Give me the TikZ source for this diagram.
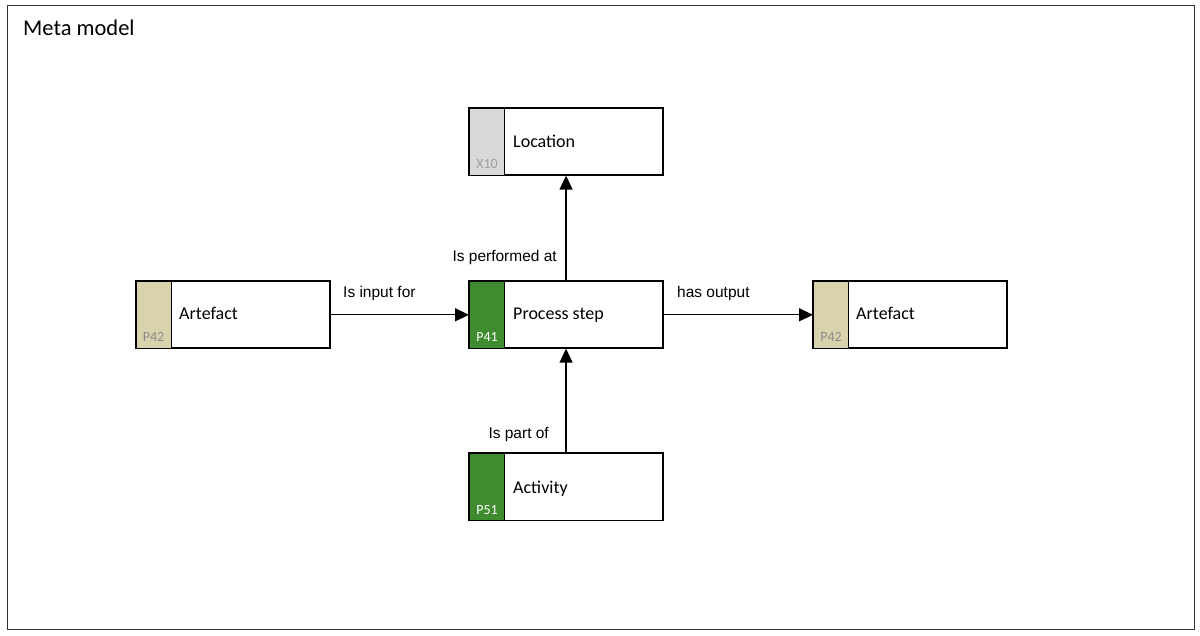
\documentclass[tikz,border=0pt]{standalone}
\usepackage{fontspec}
\setmainfont{Carlito}
\newfontfamily\arialfont{Liberation Sans}
\usetikzlibrary{arrows.meta}
\definecolor{tanc}{HTML}{D8D3AC}
\definecolor{greenc}{HTML}{3F8B30}
\definecolor{greyc}{HTML}{D9D9D9}
\definecolor{codegrey}{HTML}{8C8C8C}
\definecolor{codegreyx}{HTML}{A0A0A0}
\tikzset{
  entity/.style={draw=black, line width=1.1pt, fill=white, minimum width=193pt, minimum height=66.5pt, inner sep=0pt, anchor=north west},
  strip/.style={line width=1.1pt},
  ename/.style={anchor=base west, font=\fontsize{18}{20}\selectfont, inner sep=0pt},
  ecode/.style={anchor=base, font=\fontsize{14}{16}\selectfont, inner sep=0pt},
  rel/.style={line width=1.2pt, -{Triangle[length=14pt,width=13pt]}},
  rlabel/.style={font=\arialfont\fontsize{15.5}{17}\selectfont, inner sep=0pt},
}
\begin{document}
\begin{tikzpicture}[x=1pt,y=-1pt]
\useasboundingbox (0,0) rectangle (1200,636);
\node[draw=black!80, line width=1.1pt, minimum width=1187pt, minimum height=624pt, anchor=north west, inner sep=0pt] (frame) at (7,5) {};
\node[anchor=base west, inner sep=0pt, font=\fontsize{22.5}{25}\selectfont] (title) at (23,36) {Meta model};

% boxes
\node[entity] (art1) at (136,281) {};
\node[entity] (loc) at (469,108) {};
\node[entity] (proc) at (469,281) {};
\node[entity] (art2) at (813,281) {};
\node[entity] (act) at (469,453) {};

% strips
\foreach \b/\c in {art1/tanc, loc/greyc, proc/greenc, art2/tanc, act/greenc}{
  \fill[\c] ([shift={(0.55,-0.55)}]\b.north west) rectangle ([shift={(35.5,0.55)}]\b.south west);
  \draw[strip] ([xshift=35.5pt]\b.north west) -- ([xshift=35.5pt]\b.south west);
  \draw[line width=1.1pt] (\b.north west) rectangle (\b.south east);
}

% names
\node[ename] (art1n) at (179,320) {Artefact};
\node[ename] (locn) at (513,148) {Location};
\node[ename] (procn) at (513,320) {Process step};
\node[ename] (art2n) at (856,320) {Artefact};
\node[ename] (actn) at (513,493) {Activity};

% codes
\node[ecode, text=codegrey] (art1c) at (153.5,342) {P42};
\node[ecode, text=codegreyx] (locc) at (487,169) {X10};
\node[ecode, text=white] (procc) at (487,342) {P41};
\node[ecode, text=codegrey] (art2c) at (831,342) {P42};
\node[ecode, text=white] (actc) at (487,514) {P51};

% relations
\draw[rel] (art1.east) -- (proc.west);
\draw[rel] (proc.east) -- (art2.west);
\draw[rel] (proc.north) -- (loc.south);
\draw[rel] (act.north) -- (proc.south);

% relation labels
\node[rlabel, anchor=base west] (l1) at (343,298) {Is input for};
\node[rlabel, anchor=base west] (l2) at (677,298) {has output};
\node[rlabel, anchor=base east] (l3) at (557,262) {Is performed at};
\node[rlabel, anchor=base east] (l4) at (549,438) {Is part of};
\end{tikzpicture}
\end{document}
